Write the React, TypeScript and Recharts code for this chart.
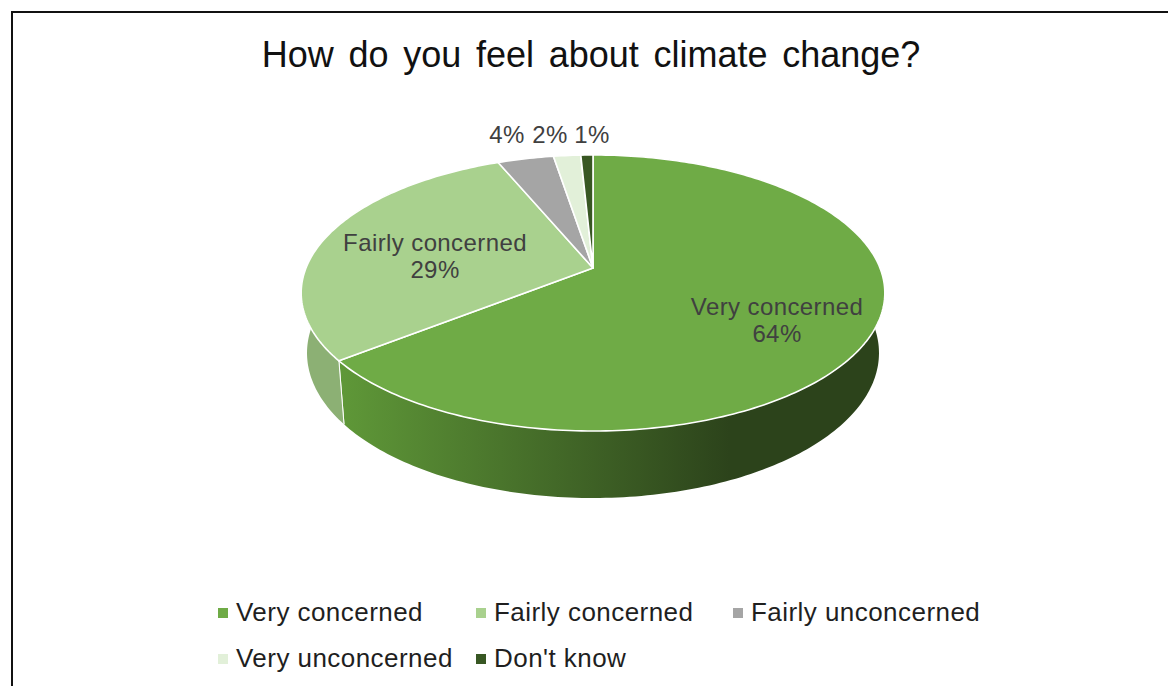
import React from 'react';
import { PieChart, Pie, Legend } from 'recharts';

const categories = ['Very concerned', 'Fairly concerned', 'Fairly unconcerned', 'Very unconcerned', "Don't know"];
const shares = [64.4, 29.3, 3.7, 1.8, 0.8];
const topColors = ['#6FAB46', '#A9D18E', '#A5A5A5', '#E2F0D9', '#385723'];
const wallColors = ['url(#wallShade)', '#8CB074', '#7c7c7c', '#aab4a3', '#2a411a'];

// label anchors (centre x, baseline y)
const labelSpots = [
    { x: 777, y: 315, withName: true },
    { x: 435, y: 251, withName: true },
    { x: 507, y: 143, withName: false },
    { x: 550, y: 143, withName: false },
    { x: 592, y: 143, withName: false },
];
const legendSpots = [
    { x: 218, y: 613 },
    { x: 476, y: 613 },
    { x: 733, y: 613 },
    { x: 218, y: 659 },
    { x: 476, y: 659 },
];

const table = categories.map((name, i) => ({ name, share: shares[i], fill: topColors[i], wall: wallColors[i] }));

const FONT = '"Liberation Sans", Arial, sans-serif';
const CX = 593;
const CY = 268;

// perspective of the tilted disc: the centre sits above the middle of the ellipse
const PERSP = 0.181;
const SCALE_X = 287;
const SCALE_Y = 133.5;
const WALL_SHRINK = 0.98;
const RIM_MID_Y = 293;
const RIM_HALF_H = 138;

function rim(cx: number, cy: number, deg: number) {
    const a = (deg * Math.PI) / 180;
    const w = 1 + PERSP * Math.sin(a);
    return {
        x: cx + (SCALE_X * Math.cos(a)) / w,
        y: cy - (SCALE_Y * Math.sin(a)) / w,
    };
}

function arcPoints(cx: number, cy: number, from: number, to: number) {
    const n = Math.max(2, Math.ceil(Math.abs(to - from)));
    const pts = [];
    for (let i = 0; i <= n; i++) pts.push(rim(cx, cy, from + ((to - from) * i) / n));
    return pts;
}

const toPath = (pts: { x: number; y: number }[]) =>
    pts.map((p, i) => `${i ? 'L' : 'M'}${p.x.toFixed(2)} ${p.y.toFixed(2)}`).join(' ');

// the wall looks taller at the front than at the sides
const lower = (p: { x: number; y: number }, cx: number) => ({
    x: cx + (p.x - cx) * WALL_SHRINK,
    y: p.y + 60 + (7 * (p.y - RIM_MID_Y)) / RIM_HALF_H,
});

function TopSlice(props: any) {
    const { cx, cy, startAngle, endAngle, fill } = props;
    const pts = arcPoints(cx, cy, startAngle, endAngle);
    return <path d={`M${cx} ${cy} ${toPath(pts).replace('M', 'L')} Z`} fill={fill} stroke="#fff" strokeWidth={1.6} strokeLinejoin="round" />;
}

function WallSlice(props: any) {
    const { cx, cy, startAngle, endAngle, payload } = props;
    const pts = arcPoints(cx, cy, startAngle, endAngle);
    const under = pts.map((p) => lower(p, cx)).reverse();
    const first = pts[0];
    const last = pts[pts.length - 1];
    return (
        <g>
            <path d={`${toPath(pts)} ${toPath(under).replace('M', 'L')} Z`} fill={payload.wall} />
            <path d={`${toPath([first, lower(first, cx)])} ${toPath([last, lower(last, cx)])}`} stroke="#fff" strokeWidth={1} fill="none" />
        </g>
    );
}

function sliceLabel(props: any) {
    const spot = labelSpots[props.index];
    const row = table[props.index];
    if (!spot) return null;
    return (
        <text x={spot.x} textAnchor="middle" fill="#404040" fontSize={24} letterSpacing={0.4} fontFamily={FONT}>
            {spot.withName && <tspan x={spot.x} y={spot.y}>{row.name}</tspan>}
            <tspan x={spot.x} y={spot.withName ? spot.y + 27 : spot.y}>{Math.round(row.share)}%</tspan>
        </text>
    );
}

function LegendBlock() {
    return (
        <div style={{ position: 'relative', width: 1168, height: 686 }}>
            {table.map((row, i) => (
                <div key={row.name}>
                    <div style={{ position: 'absolute', left: legendSpots[i].x, top: legendSpots[i].y - 5, width: 10, height: 10, background: row.fill }} />
                    <div style={{ position: 'absolute', left: legendSpots[i].x + 18, top: legendSpots[i].y - 16, lineHeight: '30px', fontSize: 26, letterSpacing: 0.45, fontFamily: FONT, color: '#1f1f1f', whiteSpace: 'nowrap' }}>
                        {row.name}
                    </div>
                </div>
            ))}
        </div>
    );
}

export default function App() {
    return (
        <div style={{ position: 'absolute', left: 0, top: 0, width: 1168, height: 686, background: '#fff', overflow: 'hidden' }}>
            <div style={{ position: 'absolute', left: 11, top: 11, right: 0, bottom: 0, borderTop: '2px solid #111', borderLeft: '2px solid #111' }} />
            <div style={{ position: 'absolute', left: 0, top: 0 }}>
                <PieChart width={1168} height={686} margin={{ top: 0, right: 0, bottom: 0, left: 0 }}>
                    <defs>
                        <linearGradient id="wallShade" gradientUnits="userSpaceOnUse" x1={340} y1={0} x2={730} y2={0}>
                            <stop offset="0" stopColor="#5F9838" />
                            <stop offset="1" stopColor="#2C431B" />
                        </linearGradient>
                    </defs>
                    <text x={591} y={67} textAnchor="middle" fontSize={36} fontFamily={FONT} fill="#111" wordSpacing={4.7}>
                        How do you feel about climate change?
                    </text>
                    <Pie
                        data={table}
                        dataKey="share"
                        nameKey="name"
                        cx={CX}
                        cy={CY}
                        outerRadius={130}
                        startAngle={90}
                        endAngle={-270}
                        paddingAngle={0}
                        legendType="none"
                        shape={WallSlice}
                        isAnimationActive={false}
                    />
                    <Pie
                        data={table}
                        dataKey="share"
                        nameKey="name"
                        cx={CX}
                        cy={CY}
                        outerRadius={130}
                        startAngle={90}
                        endAngle={-270}
                        paddingAngle={0}
                        shape={TopSlice}
                        label={sliceLabel}
                        labelLine={false}
                        isAnimationActive={false}
                    />
                    <Legend content={<LegendBlock />} wrapperStyle={{ position: 'absolute', left: 0, top: 0, width: 1168, height: 686, bottom: 'auto' }} />
                </PieChart>
            </div>
        </div>
    );
}
